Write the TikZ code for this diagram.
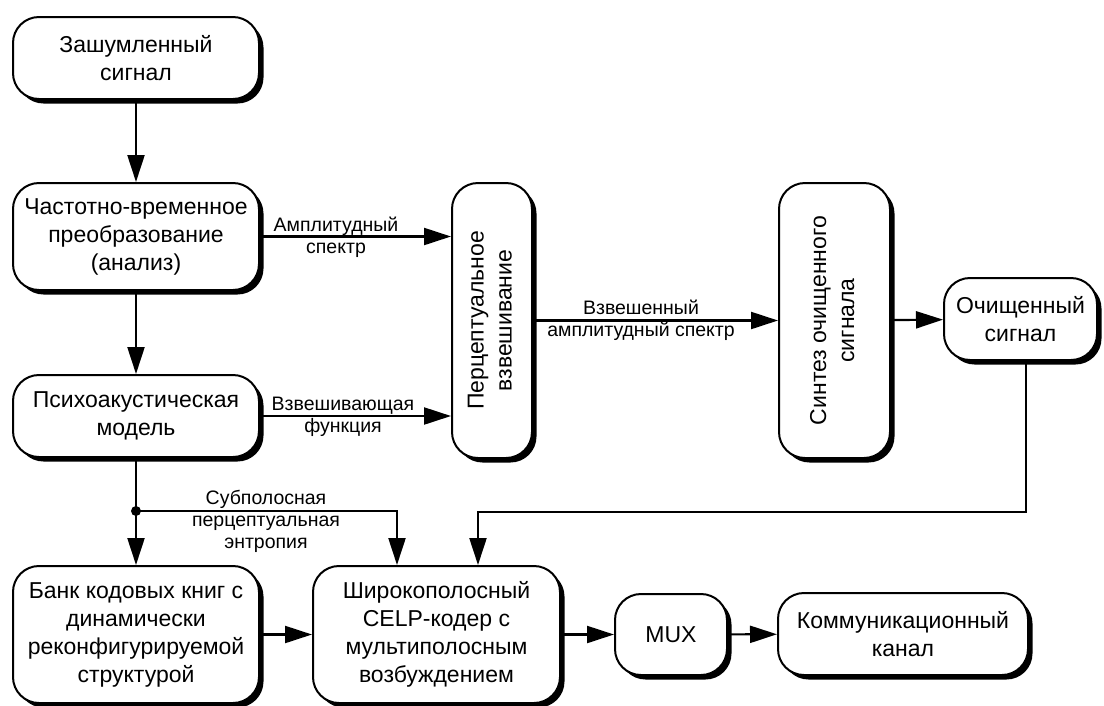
\documentclass[tikz,border=0pt]{standalone}
\usepackage{fontspec}
\usepackage{graphicx}
\setmainfont{Liberation Sans}
\usetikzlibrary{arrows.meta,shadows,calc}

\newcommand{\vtext}[1]{\rotatebox{90}{\begin{tabular}{@{}c@{}}#1\end{tabular}}}

\tikzset{
  blk/.style={draw=black, line width=2pt, fill=white, rounded corners=26pt,
    align=center, inner sep=0pt,
    font=\fontsize{23}{28}\selectfont,
    drop shadow={shadow xshift=4.5pt, shadow yshift=-4.5pt, fill=black, opacity=1}},
  conn/.style={line width=2.2pt, draw=black},
  arr/.style={conn, -{Triangle[length=27pt, width=17pt]}},
  lbl/.style={align=center, inner sep=0pt, font=\fontsize{19.5}{22}\selectfont}
}

\begin{document}
\begin{tikzpicture}[x=1pt, y=-1pt]
  \useasboundingbox (0,0) rectangle (1104,705);

  % blocks
  \node[blk, minimum width=246pt, minimum height=82pt] (noisy) at (136,58)
    {Зашумленный\\сигнал};
  \node[blk, minimum width=246pt, minimum height=107pt] (tf) at (136,236.5)
    {Частотно-временное\\преобразование\\(анализ)};
  \node[blk, minimum width=246pt, minimum height=82pt] (psy) at (136,416)
    {Психоакустическая\\модель};
  \node[blk, minimum width=80pt, minimum height=275pt] (perc) at (492,320.5)
    {\vtext{Перцептуальное\\взвешивание}};
  \node[blk, minimum width=111pt, minimum height=275pt] (synth) at (834.5,320.5)
    {\vtext{Синтез очищенного\\сигнала}};
  \node[blk, minimum width=153pt, minimum height=82pt] (clean) at (1020.5,319)
    {Очищенный\\сигнал};
  \node[blk, minimum width=246pt, minimum height=137pt] (bank) at (136,634.5)
    {Банк кодовых книг с\\динамически\\реконфигурируемой\\структурой};
  \node[blk, minimum width=247pt, minimum height=137pt] (celp) at (436.5,634.5)
    {Широкополосный\\CELP-кодер с\\мультиполосным\\возбуждением};
  \node[blk, minimum width=112pt, minimum height=81pt] (mux) at (671,634.5)
    {MUX};
  \node[blk, minimum width=250pt, minimum height=82pt] (chan) at (903,634)
    {Коммуникационный\\канал};

  % branch points
  \coordinate (j) at (136,511);
  \coordinate (fb) at (478,512);

  % connectors
  \draw[arr] (noisy) -- (tf);
  \draw[arr] (tf) -- (psy);
  \draw[arr] (tf.east) -- (tf.east -| perc.west);
  \draw[arr] (psy.east) -- (psy.east -| perc.west);
  \draw[arr] (perc) -- (synth);
  \draw[arr] (synth) -- (clean);
  \draw[arr] (psy) -- (bank);
  \fill (j) circle[radius=5pt];
  \draw[arr] (j) -| ([xshift=-39.5pt]celp.north);
  \draw[arr] ([xshift=5.5pt]clean.south) |- (fb) -- (fb |- celp.north);
  \draw[arr] (bank) -- (celp);
  \draw[arr] (celp) -- (mux);
  \draw[arr] (mux) -- (chan);

  % connector labels
  \node[lbl] (lamp) at (336,237) {Амплитудный\\спектр};
  \node[lbl] (lwf) at (343,417) {Взвешивающая\\функция};
  \node[lbl] (lws) at (641,320) {Взвешенный\\амплитудный спектр};
  \node[lbl] (lsub) at (266,521) {Субполосная\\перцептуальная\\энтропия};
\end{tikzpicture}
\end{document}
